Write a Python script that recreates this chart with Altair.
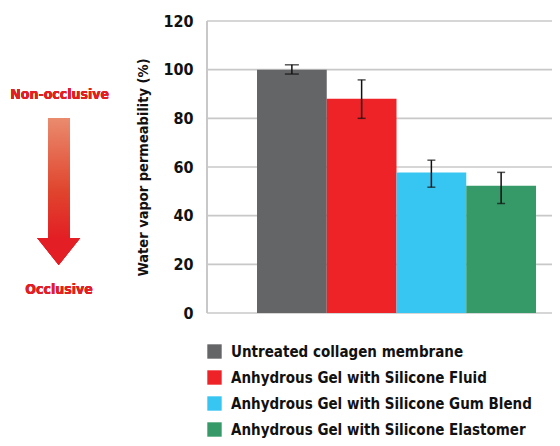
import altair as alt
import pandas as pd

categories = [
    "Untreated collagen membrane",
    "Anhydrous Gel with Silicone Fluid",
    "Anhydrous Gel with Silicone Gum Blend",
    "Anhydrous Gel with Silicone Elastomer",
]
values = [100, 88, 57.7, 52.3]
err_low = [98.2, 80, 51.7, 45]
err_high = [102, 95.8, 62.8, 57.8]
colors = ["#646567", "#ED2328", "#37C6F1", "#359A67"]
y_ticks = [0, 20, 40, 60, 80, 100, 120]

FONT = "'DejaVu Sans Condensed', 'DejaVu Sans', sans-serif"
GRID = "#C8C8C8"

df = pd.DataFrame({"cat": categories, "val": values, "lo": err_low, "hi": err_high})
grid_df = pd.DataFrame({"tick": y_ticks})

xscale = alt.Scale(domain=categories, range=[50, 329], paddingInner=0, paddingOuter=0)
yscale = alt.Scale(domain=[0, 120])

yaxis = alt.Axis(
    values=y_ticks,
    title="Water vapor permeability (%)",
    titleFont=FONT,
    titleFontSize=14.5,
    titleFontWeight="bold",
    titleColor="#111111",
    titlePadding=12,
    labelFont=FONT,
    labelFontSize=16,
    labelFontWeight="bold",
    labelColor="#111111",
    labelPadding=14,
    ticks=False,
    domain=False,
    grid=False,
)

grid = alt.Chart(grid_df).mark_rule(color=GRID, strokeWidth=1.6).encode(
    y=alt.Y("tick:Q", scale=yscale, axis=yaxis),
    x=alt.value(0),
    x2=alt.value(345),
)
domain = alt.Chart(grid_df).mark_rule(color=GRID, strokeWidth=1.6).encode(
    x=alt.value(0), y=alt.value(0), y2=alt.value(292)
)

bars = alt.Chart(df).mark_bar().encode(
    x=alt.X("cat:N", scale=xscale, axis=None, sort=categories),
    y=alt.Y("val:Q", scale=yscale, axis=yaxis),
    color=alt.Color(
        "cat:N",
        scale=alt.Scale(domain=categories, range=colors),
        sort=categories,
        legend=alt.Legend(
            title=None,
            orient="none",
            legendX=0,
            legendY=323,
            direction="vertical",
            symbolType="square",
            symbolSize=207,
            symbolStrokeWidth=0,
            symbolOpacity=1,
            labelFont=FONT,
            labelFontSize=15,
            labelFontWeight="bold",
            labelColor="#111111",
            labelOffset=9,
            rowPadding=10,
            padding=0,
            labelLimit=400,
        ),
    ),
)

rules = alt.Chart(df).mark_rule(color="#111111", strokeWidth=1.5).encode(
    x=alt.X("cat:N", scale=xscale, sort=categories),
    y="lo:Q",
    y2="hi:Q",
)

cap_size = alt.condition(alt.datum.cat == categories[0], alt.value(14), alt.value(8))
caps_lo = alt.Chart(df).mark_tick(color="#111111", thickness=1.5).encode(
    x=alt.X("cat:N", scale=xscale, sort=categories),
    y="lo:Q",
    size=cap_size,
)
caps_hi = alt.Chart(df).mark_tick(color="#111111", thickness=1.5).encode(
    x=alt.X("cat:N", scale=xscale, sort=categories),
    y="hi:Q",
    size=cap_size,
)

RED = "#E31E24"
shaft = alt.Chart(df).mark_rect(
    color=alt.Gradient(
        gradient="linear",
        stops=[
            alt.GradientStop(color="#EA8B6E", offset=0),
            alt.GradientStop(color="#E0452E", offset=0.6),
            alt.GradientStop(color="#E31E24", offset=1),
        ],
        x1=0, x2=0, y1=0, y2=1,
    )
).encode(
    x=alt.value(-158.7), x2=alt.value(-137), y=alt.value(97), y2=alt.value(218)
)

head = alt.Chart(df).mark_point(
    shape="M-1,-0.628L1,-0.628L0,0.628Z", filled=True, color=RED, opacity=1, size=1849
).encode(x=alt.value(-148.3), y=alt.value(230.5))

txt_top = alt.Chart(df).mark_text(
    text="Non-occlusive", font=FONT, fontSize=14, fontWeight="bold", color=RED
).encode(x=alt.value(-147.3), y=alt.value(74))

txt_bot = alt.Chart(df).mark_text(
    text="Occlusive", font=FONT, fontSize=14, fontWeight="bold", color=RED
).encode(x=alt.value(-148), y=alt.value(269))

chart = alt.layer(
    grid, domain, bars, rules, caps_lo, caps_hi, shaft, head, txt_top, txt_bot
).properties(
    width=345,
    height=292,
    autosize=alt.AutoSizeParams(type="none"),
    padding={"left": 199, "top": 13, "right": 0, "bottom": 125},
).configure_view(stroke=None)

chart.save("out.html", embed_options={"renderer": "svg", "actions": False})
